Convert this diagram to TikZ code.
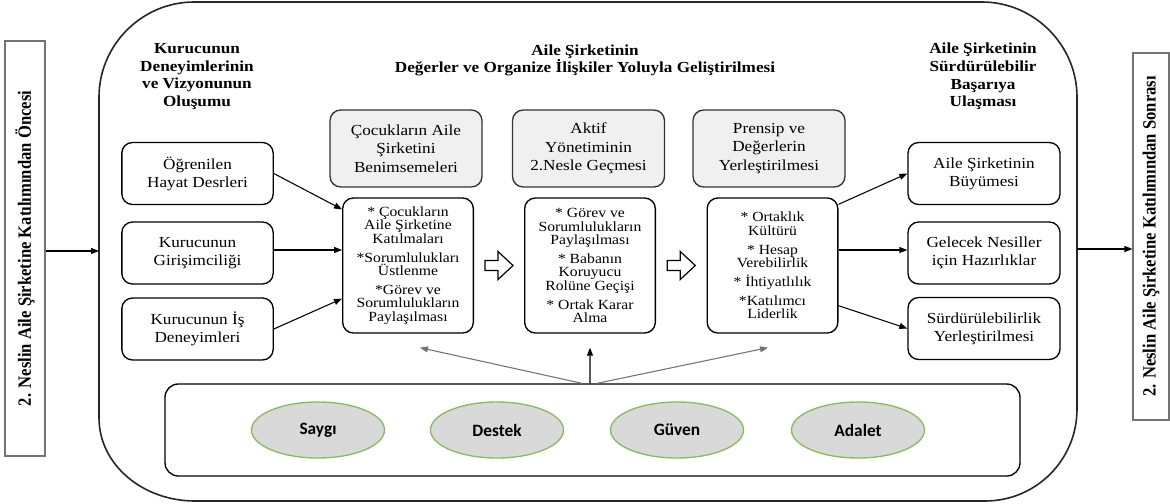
\documentclass[tikz,border=0pt]{standalone}
\usepackage{fontspec}
\setmainfont{Liberation Serif}[FakeStretch=1.12]
\newfontfamily\sidefont{Liberation Serif}
\newfontfamily\valfont{Carlito}
\usetikzlibrary{arrows.meta,shapes.geometric}

\definecolor{valfill}{HTML}{D9D9D9}
\definecolor{valline}{HTML}{86BF5A}
\definecolor{headfill}{HTML}{F0F0F0}

\begin{document}
\begin{tikzpicture}[x=0.75pt,y=-0.75pt,
  every node/.style={inner sep=0pt, align=center},
  tip/.style={-{Triangle[length=6pt,width=4.5pt]}, line width=0.8pt},
  sidebox/.style={draw=black!55, line width=0.8pt, minimum width=30pt,
                  font=\sidefont\bfseries\fontsize{14}{16}\selectfont},
  phase/.style={font=\bfseries\fontsize{11.5}{13.3}\selectfont},
  factor/.style={draw, line width=1pt, rounded corners=8pt,
                 minimum width=113.5pt, minimum height=46.5pt,
                 font=\fontsize{11.5}{13.5}\selectfont},
  headbox/.style={draw=black!80, fill=headfill, line width=1pt, rounded corners=8pt,
                  minimum width=114pt, minimum height=57.75pt,
                  font=\fontsize{11.5}{13.9}\selectfont},
  itembox/.style={draw, line width=1pt, rounded corners=8pt,
                  minimum width=98pt, minimum height=101.25pt,
                  font=\fontsize{10.5}{10.1}\selectfont},
  value/.style={ellipse, draw=valline, fill=valfill, line width=1pt,
                minimum width=99.75pt, minimum height=42pt,
                font=\valfont\bfseries\fontsize{13}{15}\selectfont},
  hollow/.pic={\draw[line width=0.9pt, fill=white]
      (-14,-5) -- (-1,-5) -- (-1,-14) -- (14,0) -- (-1,14) -- (-1,5) -- (-14,5) -- cycle;}
]
\useasboundingbox (0,0) rectangle (1170,503);

% framing before / after stages
\node[sidebox, minimum height=311.25pt] (before) at (25,248.5)
  {\rotatebox{90}{\scalebox{0.89}[1]{2. Neslin Aile Şirketine Katılımından Öncesi}}};
\node[sidebox, minimum height=275.25pt, minimum width=27pt] (after) at (1151,236.5)
  {\rotatebox{90}{\scalebox{0.89}[1]{2. Neslin Aile Şirketine Katılımından Sonrası}}};

% large rounded frame around the process
\draw[line width=1.2pt, black!85]
  (99,97) .. controls (99,45) and (142,2) .. (194,2)
  -- (982,2) .. controls (1034,2) and (1077,45) .. (1077,97)
  -- (1077,409) .. controls (1077,460) and (1036,501) .. (985,501)
  -- (195,501) .. controls (142,501) and (99,464) .. (99,418) -- cycle;
\coordinate (inL) at (99,251);
\coordinate (outR) at (1077,249);

\draw[tip] (before.east |- inL) -- (inL);
\draw[tip] (outR) -- (after.west |- outR);

% column headings
\node[phase] (t1) at (197,76.5) {Kurucunun\\Deneyimlerinin\\ve Vizyonunun\\Oluşumu};
\node[phase] (t2) at (585,60.5) {Aile Şirketinin\\Değerler ve Organize İlişkiler Yoluyla Geliştirilmesi};
\node[phase] (t3) at (983,76.5) {Aile Şirketinin\\Sürdürülebilir\\Başarıya\\Ulaşması};

% founder factors
\node[factor] (l1) at (197.5,173.5) {Öğrenilen\\Hayat Desrleri};
\node[factor] (l2) at (197.5,253) {Kurucunun\\Girişimciliği};
\node[factor] (l3) at (197.5,329) {Kurucunun İş\\Deneyimleri};

% development stages
\node[headbox] (h1) at (406,148.5) {Çocukların Aile\\Şirketini\\Benimsemeleri};
\node[headbox] (h2) at (588.5,148.5) {Aktif\\Yönetiminin\\2.Nesle Geçmesi};
\node[headbox] (h3) at (769,148.5) {Prensip ve\\Değerlerin\\Yerleştirilmesi};

\node[itembox] (c1) at (408,265.5)
  {* Çocukların\\Aile Şirketine\\Katılmaları\\[4pt]*Sorumlulukları\\Üstlenme\\[4pt]*Görev ve\\Sorumlulukların\\Paylaşılması};
\node[itembox] (c2) at (590,265.5)
  {* Görev ve\\Sorumlulukların\\Paylaşılması\\[4pt]* Babanın\\Koruyucu\\Rolüne Geçişi\\[4pt]* Ortak Karar\\Alma};
\node[itembox] (c3) at (772.5,265.5)
  {* Ortaklık\\Kültürü\\[4pt]* Hesap\\Verebilirlik\\[4pt]* İhtiyatlılık\\[4pt]*Katılımcı\\Liderlik};

\path (c1.east) -- (c2.west) pic[pos=0.5]{hollow};
\path (c2.east) -- (c3.west) pic[pos=0.5]{hollow};

% outcomes
\node[factor, minimum width=114pt] (r1) at (984,173.5) {Aile Şirketinin\\Büyümesi};
\node[factor, minimum width=114pt] (r2) at (984,253) {Gelecek Nesiller\\için Hazırlıklar};
\node[factor, minimum width=114pt] (r3) at (984,328.5) {Sürdürülebilirlik\\Yerleştirilmesi};

% inputs and outputs of the stages
\draw[tip] (l1.east) -- ([yshift=-9pt]c1.north west);
\draw[tip] (l2.east |- 0,250) -- (c1.west |- 0,250);
\draw[tip] (l3.east) -- ([yshift=26.25pt]c1.south west);
\draw[tip] ([yshift=-5.25pt]c3.north east) -- (r1.west);
\draw[tip] (c3.east |- 0,250) -- (r2.west |- 0,250);
\draw[tip] ([yshift=21pt]c3.south east) -- (r3.west);

% shared values
\node[draw, line width=1pt, rounded corners=10pt, minimum width=641.25pt, minimum height=69pt]
  (vals) at (592.5,430) {};
\node[value] (v1) at (318,430) {Saygı};
\node[value] (v2) at (497,430) {Destek};
\node[value] (v3) at (677,430) {Güven};
\node[value] (v4) at (858,430) {Adalet};

\coordinate (tipL) at ([xshift=9pt,yshift=-10.5pt]c1.south);
\coordinate (tipM) at ([yshift=-10.5pt]c2.south);
\coordinate (tipR) at ([xshift=-3.4pt,yshift=-10.5pt]c3.south);
\draw[tip, black!55] ([xshift=-7.9pt]vals.north) -- (tipL);
\draw[tip] ([xshift=-1.9pt]vals.north) -- (tipM);
\draw[tip, black!55] ([xshift=3.4pt]vals.north) -- (tipR);
\end{tikzpicture}
\end{document}
